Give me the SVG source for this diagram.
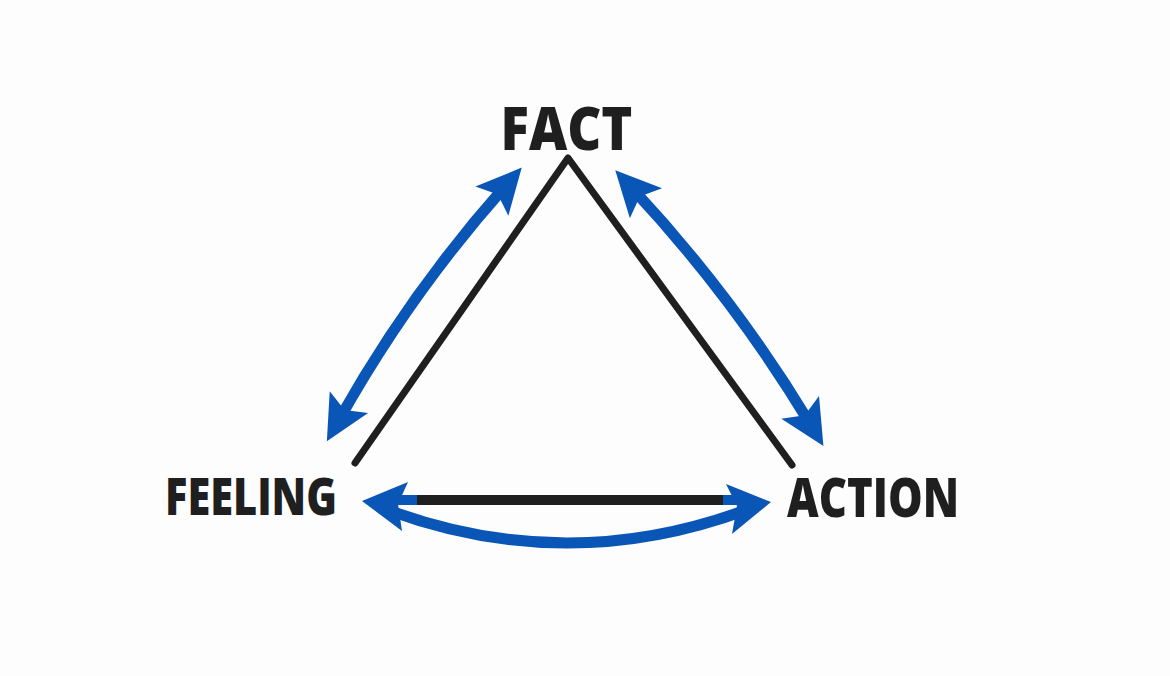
<svg xmlns="http://www.w3.org/2000/svg" width="1170" height="676" viewBox="0 0 1170 676">
  <defs>
    <style>
      .lbl { font-family: "Open Sans", "Noto Sans", "Liberation Sans", sans-serif; font-weight: 800; fill: #1f1f1f; }
      .tri { fill: none; stroke: #1f1f1f; stroke-width: 7; stroke-linecap: round; stroke-linejoin: round; }
      .arc { fill: none; stroke: #0a56b6; stroke-width: 11; }
      .head { fill: #0a56b6; }
    </style>
    <marker id="ah" markerUnits="userSpaceOnUse" orient="auto-start-reverse" viewBox="-22 -24 50 48" markerWidth="50" markerHeight="48" refX="0" refY="0">
      <path class="head" d="M26,0 L-19,-22 L-10,0 L-19,22 Z"/>
    </marker>
  </defs>
  <rect width="1170" height="676" fill="#fdfdfd"/>

  <g id="connectors">
    <path id="triangle" class="tri" d="M355,463 L568,158 L792,465"/>
    <path class="arc" d="M339.6,418.7 C386.1,335.9 441,258.6 504.5,187" marker-start="url(#ah)" marker-end="url(#ah)"/>
    <path class="arc" d="M633,189.3 C700.4,261.6 759.4,339.8 810,423.7" marker-start="url(#ah)" marker-end="url(#ah)"/>
    <line x1="416" y1="500" x2="724" y2="500" stroke="#1f1f1f" stroke-width="10"/>
    <line x1="385" y1="500" x2="417" y2="500" stroke="#0a56b6" stroke-width="10"/>
    <line x1="723" y1="500" x2="752" y2="500" stroke="#0a56b6" stroke-width="10"/>
    <path class="arc" d="M388,510 Q567,576 746,510" stroke-width="12"/>
    <path class="head" d="M362,501 L408,482 L398,504 L402,531 Z"/>
    <path class="head" d="M771,502 L726,484 L737,506 L732,534 Z"/>
  </g>

  <g id="node-fact">
    <text class="lbl" x="500.5" y="150" font-size="60" textLength="132" lengthAdjust="spacingAndGlyphs">FACT</text>
  </g>
  <g id="node-feeling">
    <text class="lbl" x="165" y="514.5" font-size="51" textLength="172" lengthAdjust="spacingAndGlyphs">FEELING</text>
  </g>
  <g id="node-action">
    <text class="lbl" x="787" y="516.5" font-size="54" textLength="172" lengthAdjust="spacingAndGlyphs">ACTION</text>
  </g>
</svg>
